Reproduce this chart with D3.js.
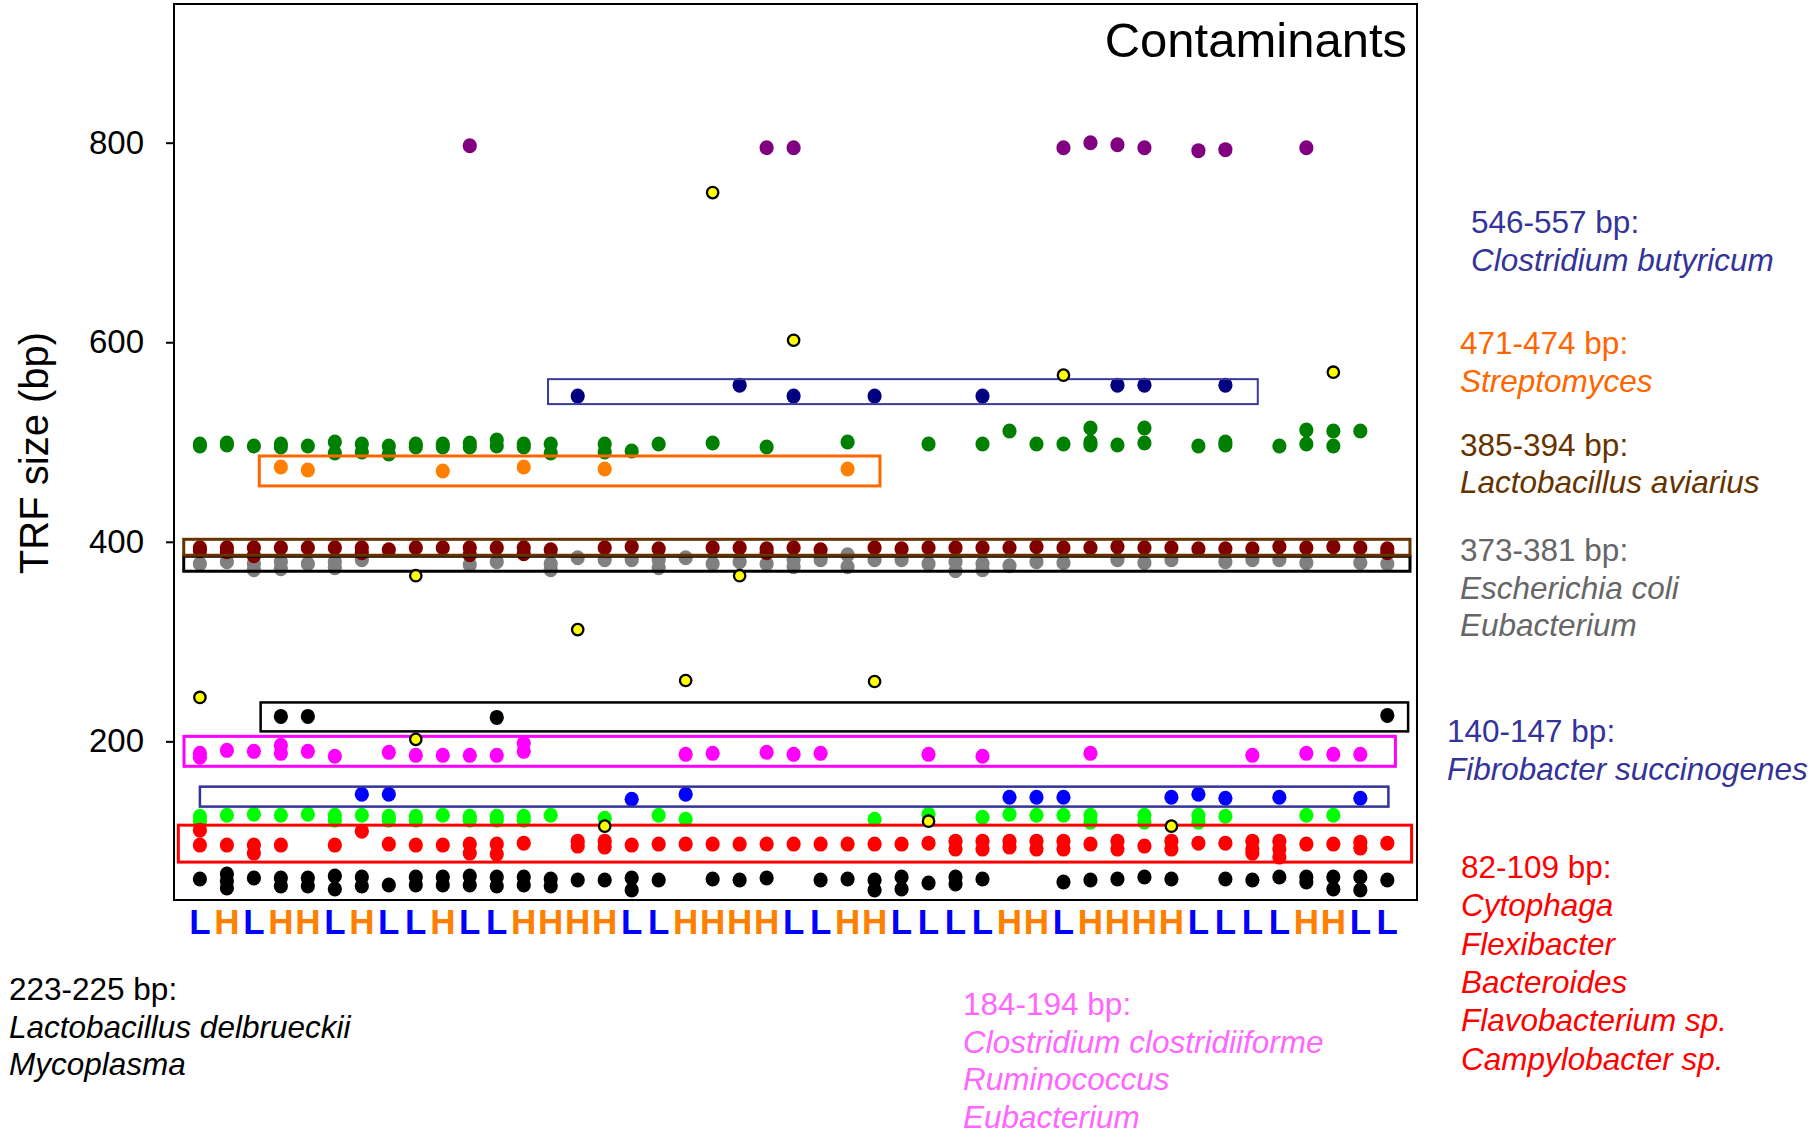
<!DOCTYPE html>
<html><head><meta charset="utf-8">
<script src="https://cdn.jsdelivr.net/npm/d3@7"></script>
<style>body{margin:0;background:#fff} svg{display:block} text{font-family:"Liberation Sans",Arial,sans-serif}</style>
</head><body><svg id="chart" width="1820" height="1137"></svg>
<script>
// ---------------- DATA ----------------
const samples = ["L","H","L","H","H","L","H","L","L","H","L","L","H","H","H","H","L","L","H","H","H","H","L","L","H","H","L","L","L","L","H","H","L","H","H","H","H","L","L","L","L","H","H","L","L"];
const yTicks = [200,400,600,800];

// [sample index, TRF size bp]
const purple800 = [[10,797],[21,795],[22,795],[32,795],[33,800],[34,798],[35,795],[37,792],[38,793],[41,795]];
const yellowOutliers = [[0,244],[8,366],[8,202],[14,312],[15,115],[18,261],[19,750],[20,366],[22,602],[25,260],[27,120],[32,567],[36,115],[42,570]];
const clostridium546 = [[14,546],[20,557],[22,546],[25,546],[29,546],[34,557],[35,557],[38,557]];
const darkGreen500 = [[0,498],[0,496],[1,499],[1,497],[2,496],[3,498],[3,495],[4,496],[5,500],[5,489],[6,498],[6,490],[7,496],[7,488],[8,498],[8,495],[9,498],[9,495],[10,499],[10,495],[11,502],[11,496],[12,498],[12,495],[13,498],[13,489],[15,498],[15,490],[16,491],[17,498],[19,499],[21,495],[24,500],[27,498],[29,498],[30,511],[31,498],[32,498],[33,514],[33,500],[33,497],[34,497],[35,514],[35,499],[37,496],[38,500],[38,497],[40,496],[41,512],[41,498],[42,511],[42,496],[43,511]];
const streptomyces471 = [[3,475],[4,472],[9,471],[12,475],[15,473],[24,473]];
const lactobacillus385 = [[0,394],[0,391],[1,394],[1,390],[2,394],[2,386],[3,394],[4,394],[5,394],[6,394],[6,389],[7,392],[8,394],[9,394],[10,394],[10,387],[11,394],[12,394],[12,388],[13,392],[15,394],[16,395],[17,393],[19,394],[20,394],[21,393],[21,389],[22,394],[23,392],[25,394],[26,393],[27,394],[28,394],[29,394],[30,394],[31,395],[32,394],[33,394],[34,395],[35,394],[36,394],[37,393],[38,393],[39,393],[40,395],[41,394],[42,395],[43,394],[44,393],[44,389]];
const escherichia373 = [[0,378],[1,380],[2,378],[2,372],[3,380],[3,373],[4,378],[5,380],[5,374],[6,382],[10,377],[11,380],[13,378],[13,372],[14,384],[15,382],[16,382],[17,382],[17,374],[18,384],[19,378],[20,380],[21,378],[22,382],[22,375],[23,382],[24,387],[24,375],[25,382],[26,382],[27,378],[28,380],[28,371],[29,378],[29,372],[30,376],[31,380],[32,379],[34,382],[35,379],[36,382],[38,380],[39,382],[40,382],[41,379],[43,379],[44,378]];
const lactobacillus223 = [[3,225],[4,225],[11,224],[44,226]];
const clostridium184 = [[0,188],[0,184],[1,191],[2,190],[3,196],[3,188],[4,190],[5,185],[7,189],[8,186],[9,186],[10,186],[11,186],[12,198],[12,190],[18,187],[19,188],[21,189],[22,187],[23,188],[27,187],[29,185],[33,188],[39,186],[41,188],[42,187],[43,187]];
const fibrobacter140 = [[6,147],[7,147],[16,142],[18,147],[30,144],[31,144],[32,144],[36,144],[37,147],[38,143],[40,144],[43,143]];
const brightGreen120 = [[0,125],[0,120],[1,126],[2,127],[3,126],[4,127],[5,126],[5,121],[6,126],[7,125],[7,121],[8,125],[8,121],[9,126],[10,125],[10,121],[11,125],[11,121],[12,125],[12,121],[13,126],[15,123],[17,126],[18,122],[25,122],[27,127],[29,124],[30,127],[31,126],[32,126],[33,126],[33,119],[35,126],[35,119],[37,126],[37,119],[38,125],[41,126],[42,126]];
const cytophaga82 = [[0,111],[0,96],[1,96],[2,96],[2,88],[3,96],[5,96],[6,110],[7,97],[8,96],[9,96],[10,97],[10,88],[11,97],[11,87],[12,98],[14,100],[14,95],[15,100],[15,94],[16,96],[17,97],[18,97],[19,97],[20,97],[21,97],[22,97],[23,97],[24,97],[25,97],[26,97],[27,98],[28,100],[28,92],[29,100],[29,92],[30,100],[30,94],[31,100],[31,92],[32,100],[32,92],[33,97],[34,100],[34,92],[35,95],[36,100],[36,92],[37,98],[38,98],[39,100],[39,92],[39,88],[40,100],[40,92],[40,84],[41,97],[42,97],[43,99],[43,93],[44,98]];
const black55 = [[0,62],[1,67],[1,60],[1,53],[2,63],[3,63],[3,55],[4,63],[4,55],[5,65],[5,52],[6,64],[6,55],[7,56],[8,64],[8,56],[9,64],[9,56],[10,65],[10,56],[11,64],[11,55],[12,64],[12,56],[13,62],[13,55],[14,61],[15,61],[16,63],[16,51],[17,61],[19,62],[20,61],[21,63],[23,61],[24,62],[25,61],[25,51],[26,64],[26,52],[27,58],[28,64],[28,57],[29,62],[32,59],[33,61],[34,62],[35,64],[36,62],[38,62],[39,61],[40,64],[41,64],[41,59],[42,64],[42,52],[43,64],[43,51],[44,61]];

// annotation ranges: [sample start, sample end, bp low, bp high]
const rangeClostridium = [12.9, 39.2, 538, 563];
const rangeStreptomyces = [2.2, 25.2, 456, 486];
const rangeLactoAviarius = [-0.6, 44.84, 386.5, 402.5];
const rangeEscherichia = [-0.6, 44.84, 370.5, 385.5];
const rangeLactoDelb = [2.25, 44.77, 210, 239];
const rangeClostridium184 = [-0.59, 44.3, 175, 205];
const rangeFibrobacter = [0.0, 44.04, 134.6, 154.6];
const rangeCytophaga = [-0.8, 44.9, 79, 116];

// ---------------- CHART ----------------
const W = 1820, H = 1137;
const plot = {left:174, right:1417, top:4, bottom:900};
const x = d3.scaleLinear().domain([-0.96, 45.1]).range([plot.left, plot.right]);
const y = d3.scaleLinear().domain([41, 939]).range([plot.bottom, plot.top]);
const FONT = '"Liberation Sans", Arial, sans-serif';

const svg = d3.select("#chart");
svg.append("rect").attr("width", W).attr("height", H).attr("fill", "#fff");

// dots
const dotSeries = [
  {data: purple800, color: "#800080"},
  {data: clostridium546, color: "#000080"},
  {data: darkGreen500, color: "#008000"},
  {data: streptomyces471, color: "#ff8000"},
  {data: escherichia373, color: "#808080"},
  {data: lactobacillus385, color: "#800000"},
  {data: lactobacillus223, color: "#000000"},
  {data: clostridium184, color: "#ff00ff"},
  {data: fibrobacter140, color: "#0000ff"},
  {data: brightGreen120, color: "#00ff00"},
  {data: cytophaga82, color: "#ff0000"},
  {data: black55, color: "#000000"}
];
dotSeries.forEach(s => {
  svg.append("g").selectAll("ellipse").data(s.data).join("ellipse")
    .attr("cx", d => x(d[0])).attr("cy", d => y(d[1]))
    .attr("rx", 7.1).attr("ry", 7.5).attr("fill", s.color);
});

// range boxes
const boxes = [
  {r: rangeClostridium, color: "#3a3a9c", w: 2},
  {r: rangeStreptomyces, color: "#ff6600", w: 3},
  {r: rangeEscherichia, color: "#000000", w: 3},
  {r: rangeLactoAviarius, color: "#663300", w: 3},
  {r: rangeLactoDelb, color: "#000000", w: 2.5},
  {r: rangeClostridium184, color: "#ff00ff", w: 3},
  {r: rangeFibrobacter, color: "#333399", w: 2.5},
  {r: rangeCytophaga, color: "#ff0000", w: 3}
];
svg.append("g").selectAll("rect").data(boxes).join("rect")
  .attr("x", d => x(d.r[0])).attr("width", d => x(d.r[1]) - x(d.r[0]))
  .attr("y", d => y(d.r[3])).attr("height", d => y(d.r[2]) - y(d.r[3]))
  .attr("fill", "none").attr("stroke", d => d.color).attr("stroke-width", d => d.w);

// yellow outliers on top
svg.append("g").selectAll("circle").data(yellowOutliers).join("circle")
  .attr("cx", d => x(d[0])).attr("cy", d => y(d[1]))
  .attr("r", 5.7).attr("fill", "#ffff00").attr("stroke", "#000").attr("stroke-width", 2.3);

// frame
svg.append("rect").attr("x", plot.left).attr("y", plot.top)
  .attr("width", plot.right - plot.left).attr("height", plot.bottom - plot.top)
  .attr("fill", "none").attr("stroke", "#000").attr("stroke-width", 2);

// y axis
svg.append("g").attr("transform", `translate(${plot.left},0)`)
  .call(d3.axisLeft(y).tickValues(yTicks).tickSize(8).tickPadding(22))
  .call(g => g.select(".domain").remove())
  .call(g => g.selectAll("line").attr("stroke", "#000").attr("stroke-width", 2))
  .call(g => g.selectAll("text").attr("font-size", 33).attr("fill", "#000").style("font-family", FONT));

svg.append("text").attr("transform", "translate(48,453) rotate(-90)")
  .attr("text-anchor", "middle").attr("font-size", 40).attr("fill", "#000")
  .text("TRF size (bp)");

// title
svg.append("text").attr("x", 1407).attr("y", 57).attr("text-anchor", "end")
  .attr("font-size", 49).attr("fill", "#000").text("Contaminants");

// sample labels
svg.append("g").selectAll("text").data(samples).join("text")
  .attr("x", (d, i) => x(i)).attr("y", 934).attr("text-anchor", "middle")
  .attr("font-weight", "bold").attr("font-size", 35)
  .attr("fill", d => d === "L" ? "#0000ff" : "#ff8000").text(d => d);

// annotation texts
const notes = [
  {x: 1471, y: 233, dy: 38, color: "#333399", lines: ["546-557 bp:", "Clostridium butyricum"]},
  {x: 1460, y: 354, dy: 38, color: "#ff6600", lines: ["471-474 bp:", "Streptomyces"]},
  {x: 1460, y: 456, dy: 37, color: "#663300", lines: ["385-394 bp:", "Lactobacillus aviarius"]},
  {x: 1460, y: 561, dy: 37.5, color: "#666666", lines: ["373-381 bp:", "Escherichia coli", "Eubacterium"]},
  {x: 1447, y: 742, dy: 38, color: "#333399", lines: ["140-147 bp:", "Fibrobacter succinogenes"]},
  {x: 1461, y: 878, dy: 38.3, color: "#ff0000", lines: ["82-109 bp:", "Cytophaga", "Flexibacter", "Bacteroides", "Flavobacterium sp.", "Campylobacter sp."]},
  {x: 9, y: 1000, dy: 37.5, color: "#000000", lines: ["223-225 bp:", "Lactobacillus delbrueckii", "Mycoplasma"]},
  {x: 963, y: 1015, dy: 37.7, color: "#ff66ff", lines: ["184-194 bp:", "Clostridium clostridiiforme", "Ruminococcus", "Eubacterium"]}
];
notes.forEach(n => {
  const t = svg.append("text").attr("font-size", 31.5).attr("fill", n.color);
  n.lines.forEach((ln, i) => {
    t.append("tspan").attr("x", n.x).attr("y", n.y + i * n.dy)
      .attr("font-style", i === 0 ? "normal" : "italic").text(ln);
  });
});
</script></body></html>
